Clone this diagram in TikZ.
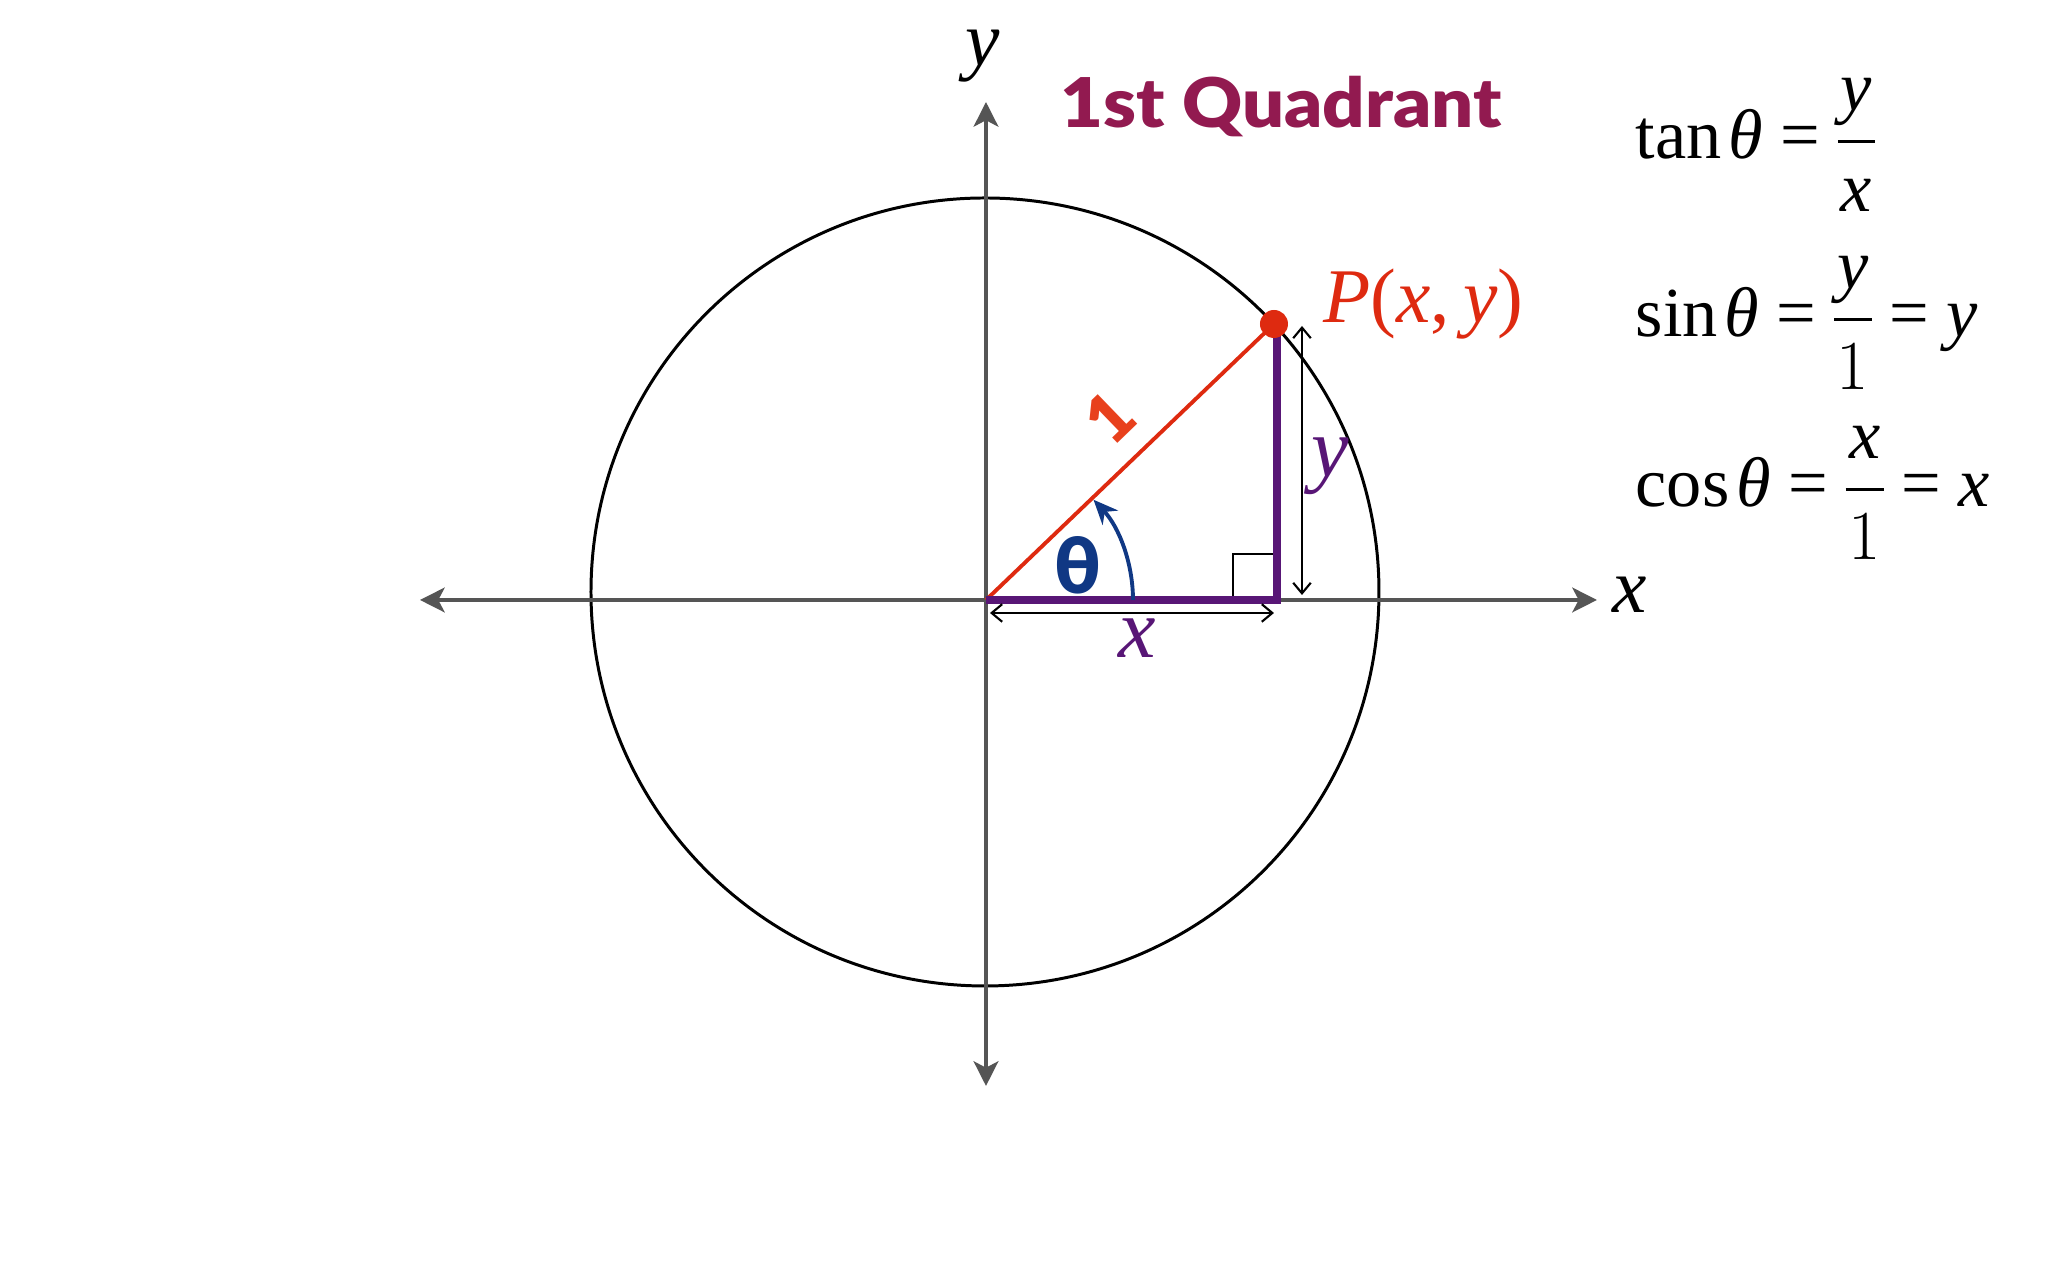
\RequirePackage{fix-cm}
\documentclass[tikz,border=0pt]{standalone}
\usepackage{amsmath}
\usepackage{fontspec}
\setmainfont{Liberation Serif}
\newfontfamily\quadfont{Lato}[BoldFont={Lato Black}]
\usetikzlibrary{calc,arrows.meta}
\definecolor{axisgray}{RGB}{85,85,85}
\definecolor{hypred}{RGB}{222,42,16}
\definecolor{tickred}{RGB}{232,64,28}
\definecolor{legpurple}{RGB}{88,22,118}
\definecolor{thetablue}{RGB}{16,56,132}
\definecolor{quadmaroon}{RGB}{146,26,80}
\newcommand\eqfrac[2]{{\nulldelimiterspace=0pt$\dfrac{\kern0.8pt#1\rule[-6pt]{0pt}{0pt}\kern0.8pt}{\kern0.8pt\rule{0pt}{17pt}#2\kern0.8pt}$}}

\begin{document}
\begin{tikzpicture}[
    axis/.style={draw=axisgray, line width=1.2pt, {Stealth[length=7pt,width=7pt,inset=1.8pt]}-{Stealth[length=7pt,width=7pt,inset=1.8pt]}},
    leg/.style={draw=legpurple, line width=2.2pt},
    dimline/.style={draw=black, line width=0.6pt, {Straight Barb[length=3pt,width=5pt]}-{Straight Barb[length=3pt,width=5pt]}},
    varlabel/.style={font=\fontsize{24}{28}\selectfont\itshape},
    axlabel/.style={font=\fontsize{22}{26}\selectfont\itshape},
    eqn/.style={font=\fontsize{20}{24}\selectfont, anchor=base west, inner sep=0pt}
  ]
  \useasboundingbox (-9.86,-6.80) rectangle (10.62,6.00);

  \coordinate (O) at (0,0);
  \coordinate (C) at (-0.01,0.08);
  \coordinate (xl) at (-5.66,0);
  \coordinate (xr) at (6.11,0);
  \coordinate (yb) at (0,-4.86);
  \coordinate (yt) at (0,4.98);
  \coordinate (P) at (2.88,2.76);
  \coordinate (Px) at ($(P |- O)+(0.03,0)$);

  \draw[black, line width=0.85pt] (C) circle (3.94);
  \path (xl) edge[axis] (xr)
        (yb) edge[axis] (yt);

  \draw[hypred, line width=1.1pt] (O) -- (P);
  \draw[black, line width=0.6pt] ($(Px)+(-0.44,0)$) |- ($(Px)+(0,0.46)$);
  \draw[leg] (O) -- (Px) -- ($(Px |- P)+(0,-0.04)$);
  \fill[hypred] (P) circle (0.14);

  \draw[thetablue, line width=1.1pt, -{Stealth[length=7pt,width=6pt]}] (1.47,0) arc[start angle=0, end angle=43, radius=1.47];

  \draw[dimline] ($(O)+(0.04,-0.13)$) -- ($(Px)+(-0.03,-0.13)$);
  \draw[dimline] ($(Px |- P)+(0.25,-0.02)$) -- ($(Px)+(0.25,0.05)$);

  \node[axlabel] (xaxlabel) at (6.435,0.05) {x};
  \node[axlabel] (yaxlabel) at (-0.03,5.44) {y};
  \node[varlabel, text=legpurple] (xleg) at (1.515,-0.38) {x};
  \node[varlabel, text=legpurple] (yleg) at (3.44,1.34) {y};
  \node[text=thetablue, font=\quadfont\bfseries\fontsize{22}{26}\selectfont] (theta) at (0.915,0.35) {θ};
  \node[text=tickred, rotate=44, font=\quadfont\bfseries\fontsize{19}{22}\selectfont] (one) at (1.24,1.82) {1};
  \node[text=hypred, anchor=base west, inner sep=0pt, font=\fontsize{22}{26}\selectfont] (plabel) at (3.37,2.77) {\textit{P}(\textit{x},\,\textit{y})};
  \node[text=quadmaroon, anchor=base west, inner sep=0pt, font=\quadfont\bfseries\fontsize{19.5}{23}\selectfont\addfontfeature{FakeStretch=1.08}] (quad) at (0.74,4.72) {1st Quadrant};

  \node[eqn] (tan) at (6.49,4.41) {tan\kern2pt\textit{θ} = \eqfrac{\textit{y}}{\textit{x}}};
  \node[eqn] (sin) at (6.49,2.63) {sin\kern2pt\textit{θ} = \eqfrac{\textit{y}}{1} = \textit{y}};
  \node[eqn] (cos) at (6.49,0.93) {cos\kern2pt\textit{θ} = \eqfrac{\textit{x}}{1} = \textit{x}};
\end{tikzpicture}
\end{document}
